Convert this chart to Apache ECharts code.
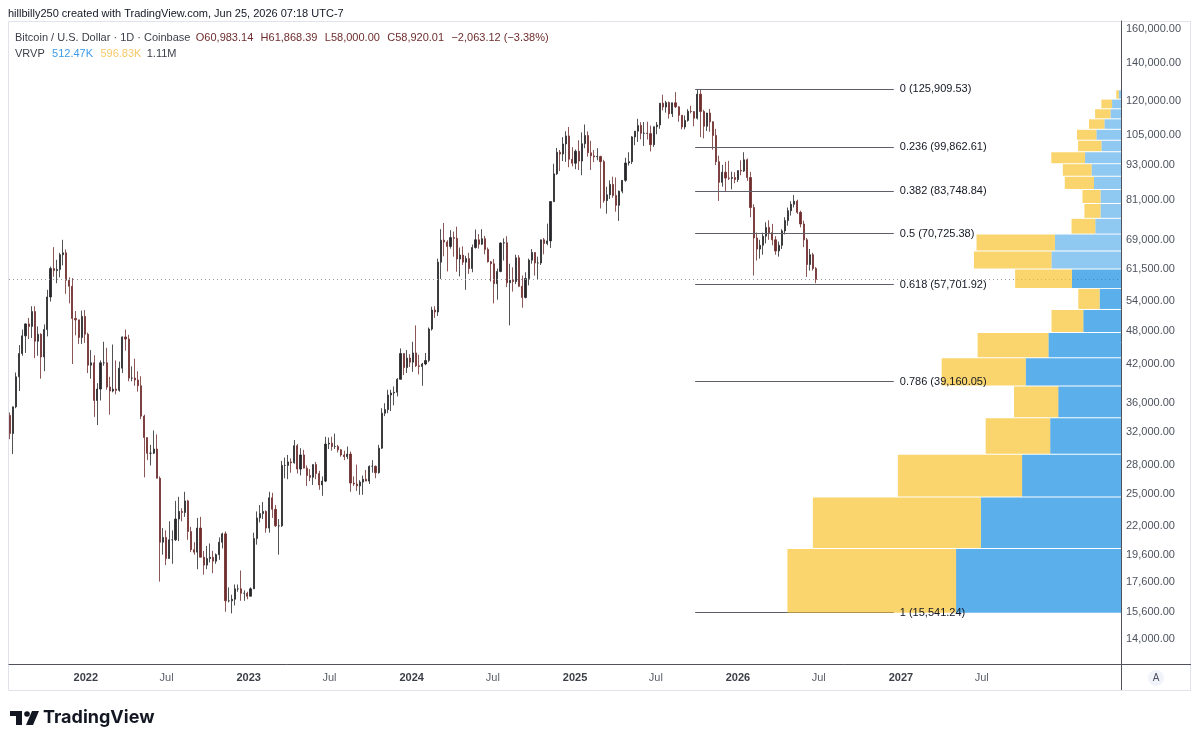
<!DOCTYPE html>
<html>
<head>
<meta charset="utf-8">
<script src="https://cdn.jsdelivr.net/npm/echarts@6/dist/echarts.min.js"></script>
<style>
html,body{margin:0;padding:0;background:#ffffff;}
#chart{width:1199px;height:745px;}
</style>
</head>
<body>
<div id="chart"></div>
<script>
// ---------------- DATA ----------------
// Weekly candles (weeks starting Monday), values in thousands of USD: [open, high, low, close]
const firstWeekMonday = '2021-07-12';
const ohlc2021 = [
  [34.2,34.6,31.1,31.8],[31.8,35.4,29.3,35.4],[35.4,40.6,35.2,39.9],[39.9,45.3,37.7,43.8],
  [43.8,48.2,43.4,47.0],[47.0,49.4,43.9,49.3],[49.3,50.5,46.4,48.8],[48.8,52.9,46.6,51.8],
  [51.8,52.9,43.0,46.0],[46.0,48.8,43.4,47.3],[47.3,47.5,39.6,43.2],[43.2,49.2,40.8,48.2],
  [48.2,56.5,46.9,54.9],[54.9,62.0,53.9,61.5],[61.5,67.0,59.5,61.0],[61.0,63.7,58.0,61.3],
  [61.3,65.5,59.4,65.0],[65.0,69.0,62.3,65.5],[65.5,66.4,55.6,58.7],[58.7,59.4,53.5,57.3],
  [57.3,59.2,42.0,50.4],[50.4,51.9,47.1,50.1],[50.1,50.1,45.5,46.7],[46.7,52.0,45.5,50.8],
  [50.8,52.1,45.7,47.3]
];
const ohlc2022 = [
  [47.3,47.6,40.5,41.8],[41.8,44.4,39.6,42.2],[42.2,43.5,34.0,36.3],[36.3,38.9,32.9,38.0],
  [38.0,42.6,36.3,42.2],[42.2,45.9,41.7,42.2],[42.2,44.8,37.9,38.3],[38.3,39.9,34.3,37.7],
  [37.7,45.4,37.5,38.0],[38.0,42.6,37.2,37.8],[37.8,42.4,37.6,41.3],[41.3,46.9,40.5,46.8],
  [46.8,48.2,44.3,46.4],[46.4,47.2,39.2,39.7],[39.7,41.6,39.2,39.7],[39.7,42.9,38.5,39.4],
  [39.4,40.8,37.6,38.5],[38.5,40.0,33.7,34.1],[34.1,34.3,26.7,31.3],[31.3,31.3,28.6,29.4],
  [29.4,30.4,28.0,29.4],[29.4,32.2,29.3,29.9],[29.9,31.7,26.6,26.6],[26.6,26.8,17.6,20.6],
  [20.6,21.8,19.6,21.0],[21.0,21.6,18.8,19.3],[19.3,22.4,19.3,20.8],[20.8,21.6,18.9,20.8],
  [20.8,24.3,20.7,22.6],[22.6,24.7,20.7,23.3],[23.3,23.6,22.4,23.2],[23.2,25.2,22.8,24.3],
  [24.3,24.4,20.8,21.5],[21.5,21.9,19.8,20.0],[20.0,20.6,19.6,19.8],[19.8,22.7,18.5,21.8],
  [21.8,22.8,19.4,19.4],[19.4,19.9,18.1,18.8],[18.8,20.3,18.5,19.3],[19.3,20.5,19.0,19.4],
  [19.4,19.9,18.2,19.1],[19.1,19.7,18.9,19.6],[19.6,21.0,19.2,20.6],[20.6,21.4,20.1,21.3],
  [21.3,21.5,15.6,16.3],[16.3,17.2,16.2,16.3],[16.3,16.7,15.5,16.4],[16.4,17.4,16.0,17.1],
  [17.1,17.4,16.9,17.1],[17.1,18.4,16.3,16.8],[16.8,17.0,16.3,16.8],[16.8,16.9,16.4,16.6]
];
const ohlc2023 = [
  [16.6,17.2,16.6,17.1],[17.1,21.4,17.1,20.9],[20.9,23.3,20.4,22.7],[22.7,23.9,22.3,23.1],
  [23.1,24.2,22.6,23.3],[23.3,23.4,21.4,21.8],[21.8,25.2,21.4,24.6],[24.6,25.1,22.7,23.5],
  [23.5,23.9,21.9,22.0],[22.0,22.6,19.6,22.0],[22.0,28.5,21.9,28.0],[28.0,28.9,26.6,28.0],
  [28.0,29.2,26.5,28.4],[28.4,28.8,27.2,28.3],[28.3,31.0,28.2,30.3],[30.3,30.5,27.1,27.6],
  [27.6,30.0,26.9,29.2],[29.2,29.8,27.7,27.7],[27.7,28.0,25.8,26.9],[26.9,27.6,26.3,26.7],
  [26.7,28.1,25.9,28.1],[28.1,28.4,26.5,27.1],[27.1,27.4,25.4,25.9],[25.9,26.8,24.8,26.3],
  [26.3,31.4,26.2,30.5],[30.5,31.3,29.9,30.6],[30.6,31.4,29.7,30.2],[30.2,31.8,29.9,30.2],
  [30.2,30.4,29.5,29.8],[29.8,29.9,29.0,29.2],[29.2,29.7,28.6,29.0],[29.0,30.2,28.7,29.3],
  [29.3,29.6,25.2,26.1],[26.1,26.8,25.8,26.0],[26.0,28.1,25.3,25.8],[25.8,26.4,24.9,26.2],
  [26.2,26.9,24.9,26.5],[26.5,27.5,26.3,26.3],[26.3,28.0,26.0,27.9],[27.9,28.6,27.2,27.9],
  [27.9,28.0,26.6,27.2],[27.2,30.4,27.1,30.0],[30.0,35.2,29.9,34.5],[34.5,35.9,34.1,35.0],
  [35.0,37.9,34.5,37.1],[37.1,37.9,34.8,37.4],[37.4,38.4,35.6,37.5],[37.5,39.7,36.9,39.5],
  [39.5,44.7,39.5,43.8],[43.8,43.8,40.2,41.4],[41.4,44.4,40.5,43.0],[43.0,43.7,41.5,42.3]
];
const ohlc2024 = [
  [42.3,45.9,40.7,43.9],[43.9,49.0,41.5,41.7],[41.7,43.6,40.3,41.6],[41.6,42.2,38.5,42.0],
  [42.0,43.9,41.8,42.6],[42.6,48.6,42.3,48.3],[48.3,52.8,48.0,52.1],[52.1,52.9,50.5,51.7],
  [51.7,64.0,50.9,63.1],[63.1,72.0,59.0,68.9],[68.9,73.8,64.6,68.4],[68.4,68.9,60.8,67.2],
  [67.2,71.7,66.6,69.6],[69.6,71.3,64.5,69.4],[69.4,72.7,60.7,63.9],[63.9,66.9,59.6,64.9],
  [64.9,67.2,62.4,63.1],[63.1,64.7,56.5,64.0],[64.0,65.5,60.2,61.5],[61.5,67.7,60.6,66.9],
  [66.9,71.9,66.6,69.0],[69.0,70.6,66.6,67.8],[67.8,72.0,67.6,69.3],[69.3,70.1,65.1,66.4],
  [66.4,66.9,63.0,63.2],[63.2,63.4,58.4,62.7],[62.7,63.9,53.5,57.9],[57.9,61.5,54.3,60.8],
  [60.8,68.3,60.6,68.1],[68.1,69.4,63.5,68.2],[68.2,70.0,57.1,58.1],[58.1,62.7,49.0,58.7],
  [58.7,61.8,56.1,58.4],[58.4,65.0,57.8,64.2],[64.2,64.9,57.2,57.3],[57.3,59.8,52.6,54.8],
  [54.8,60.6,54.6,59.1],[59.1,64.0,57.5,63.6],[63.6,66.5,62.7,65.6],[65.6,65.6,59.8,62.9],
  [62.9,64.5,58.9,62.9],[62.9,69.0,62.4,69.0],[69.0,69.5,65.1,68.0],[68.0,73.6,67.5,68.7],
  [68.7,80.4,66.8,80.4],[80.4,93.5,80.2,89.8],[89.8,99.6,89.4,97.9],[97.9,98.8,90.8,97.2],
  [97.2,104.0,94.5,101.2],[101.2,106.5,94.2,104.5],[104.5,108.3,92.2,95.2],[95.2,99.9,92.5,93.7],
  [93.7,99.0,91.5,98.3]
];
const ohlc2025 = [
  [98.3,102.7,91.2,94.5],[94.5,106.0,89.3,101.3],[101.3,109.4,99.5,104.7],[104.7,106.4,96.2,97.7],
  [97.7,102.5,91.2,96.5],[96.5,98.8,94.1,96.1],[96.1,99.5,94.8,96.3],[96.3,96.5,78.2,94.3],
  [94.3,95.0,80.0,80.7],[80.7,85.3,76.6,82.6],[82.6,87.5,81.2,86.1],[86.1,88.8,81.6,82.4],
  [82.4,88.5,77.2,79.2],[79.2,84.0,74.4,83.8],[83.8,87.6,83.1,87.5],[87.5,95.8,87.0,93.8],
  [93.8,97.9,92.8,94.3],[94.3,104.4,93.4,104.1],[104.1,106.6,100.7,106.5],[106.5,111.9,102.0,109.0],
  [109.0,110.4,103.1,105.6],[105.6,110.5,100.4,105.7],[105.7,110.6,103.0,105.5],[105.5,108.9,98.2,100.9],
  [100.9,108.5,100.0,108.4],[108.4,110.5,105.2,109.2],[109.2,119.2,107.5,119.1],[119.1,123.2,115.7,117.3],
  [117.3,120.2,114.7,119.4],[119.4,119.9,112.0,114.2],[114.2,119.3,112.7,119.3],[119.3,124.5,116.8,117.4],
  [117.4,117.6,110.6,113.5],[113.5,113.5,107.3,108.3],[108.3,113.4,107.3,111.2],[111.2,116.3,110.6,115.3],
  [115.3,117.9,114.4,115.2],[115.2,115.4,108.6,112.2],[112.2,125.7,111.6,123.5],[123.5,125.9,104.0,115.2],
  [115.2,116.0,103.5,108.6],[108.6,114.6,106.6,114.5],[114.5,116.4,106.3,110.6],[110.6,110.8,98.9,104.7],
  [104.7,107.5,93.0,94.3],[94.3,96.6,80.6,86.8],[86.8,93.1,85.3,90.4],[90.4,94.2,83.8,88.3],
  [88.3,94.6,87.6,88.2],[88.2,90.6,84.4,88.5],[88.5,90.4,86.5,87.8],[87.8,91.0,86.9,91.0]
];
const ohlc2026 = [
  [91.0,94.8,89.3,90.8],[90.8,97.9,90.5,95.0],[95.0,95.5,87.3,88.5],[88.5,90.5,75.5,78.5],
  [78.5,79.5,59.8,69.5],[69.5,71.0,63.5,66.5],[66.5,69.0,64.0,67.5],[67.5,71.0,65.0,70.0],
  [70.0,74.0,68.0,72.5],[72.5,74.6,69.0,71.0],[71.0,73.5,67.5,69.0],[69.0,70.0,65.0,66.0],
  [66.0,68.5,64.5,67.5],[67.5,72.0,66.5,71.5],[71.5,75.5,70.5,74.5],[74.5,78.5,73.0,77.5],
  [77.5,80.5,76.0,79.5],[79.5,82.5,78.5,80.5],[80.5,81.0,76.5,77.0],[77.0,77.5,72.5,73.5],
  [73.5,74.5,67.0,69.0],[69.0,69.5,59.5,62.5],[62.5,66.5,61.0,65.0],[65.0,65.5,61.0,61.5],
  [61.5,61.868,58.0,58.92]
];

// Fibonacci retracement
const fibLevels = [0, 0.236, 0.382, 0.5, 0.618, 0.786, 1];
const fibPrices = [125909.53, 99862.61, 83748.84, 70725.38, 57701.92, 39160.05, 15541.24];
const fibStart = '2025-09-27';
const fibEnd = '2026-12-16';
const lastPrice = 58920.01;

// Visible range volume profile (24 rows), volumes in thousands
const profileEdges = [15541, 20140, 24739, 29338, 33937, 38535, 43134, 47733, 52332, 56931, 61530, 66129,
  70727, 75326, 79925, 84524, 89123, 93722, 98320, 102919, 107518, 112117, 116716, 121315, 125914];
const profileUp   = [75.7, 64.3, 45.4, 32.5, 28.8, 43.7, 33.3, 17.3, 9.8, 22.5, 31.9, 30.3,
  11.8, 9.4, 9.4, 12.4, 13.5, 16.5, 9.0, 11.3, 7.6, 4.8, 4.1, 1.0];
const profileDown = [77.4, 77.1, 57.0, 29.6, 20.3, 38.6, 32.5, 14.6, 9.8, 26.1, 35.6, 36.0,
  10.9, 7.4, 8.3, 13.4, 13.2, 15.5, 10.7, 8.9, 7.1, 7.1, 4.9, 1.2];
const valueAreaRows = 10; // rows 0..9 lie in the value area

// Axis ticks
const priceTicks = [14000, 15600, 17600, 19600, 22000, 25000, 28000, 32000, 36000, 42000, 48000,
  54000, 61500, 69000, 81000, 93000, 105000, 120000, 140000, 160000];
const timeTicks = ['2022-01-01','2022-07-01','2023-01-01','2023-07-01','2024-01-01','2024-07-01',
  '2025-01-01','2025-07-01','2026-01-01','2026-07-01','2027-01-01','2027-07-01'];
const timeTickNames = ['2022','Jul','2023','Jul','2024','Jul','2025','Jul','2026','Jul','2027','Jul'];

// Legend
const symbolTitle = 'Bitcoin / U.S. Dollar · 1D · Coinbase';
const lastBar = {open: 60983.14, high: 61868.39, low: 58000.00, close: 58920.01, change: -2063.12, changePct: -3.38};
const vrvpLegend = ['512.47K', '596.83K', '1.11M'];
const headerText = 'hillbilly250 created with TradingView.com, Jun 25, 2026 07:18 UTC-7';

// ---------------- BUILD ----------------
const DAY = 86400000;
const parseUTC = s => { const p = s.split('-').map(Number); return Date.UTC(p[0], p[1] - 1, p[2]); };
const allWeeks = [].concat(ohlc2021, ohlc2022, ohlc2023, ohlc2024, ohlc2025, ohlc2026);
const t0 = parseUTC(firstWeekMonday);
const candleData = allWeeks.map((w, i) => [t0 + i * 7 * DAY + 3 * DAY, w[0] * 1000, w[3] * 1000, w[2] * 1000, w[1] * 1000]);

const timeTickValues = timeTicks.map(parseUTC);
const xMin = Date.UTC(2021, 6, 13), xMax = Date.UTC(2028, 4, 8);
const yMin = 12662, yMax = 165430;

const fmt2 = v => v.toLocaleString('en-US', {minimumFractionDigits: 2, maximumFractionDigits: 2});
const MINUS = '\u2212';
const sgn = v => (v < 0 ? MINUS : '') + fmt2(Math.abs(v));

const FONT = '"Liberation Sans", Arial, sans-serif';
const GRID = {left: 9, right: 78, top: 21, bottom: 81};

const fibMarks = fibLevels.map((lv, i) => [
  {coord: [parseUTC(fibStart), fibPrices[i]],
   label: {show: true, position: 'end', distance: 6, formatter: lv + ' (' + fmt2(fibPrices[i]) + ')',
            color: '#131722', fontSize: 11, fontFamily: FONT}},
  {coord: [parseUTC(fibEnd), fibPrices[i]]}
]);

const profileData = profileUp.map((u, i) => [u, profileEdges[i], profileEdges[i + 1], profileDown[i], i < valueAreaRows ? 1 : 0]);
const maxRow = Math.max.apply(null, profileUp.map((u, i) => u + profileDown[i]));

const DOWN_C = '#6e2c2c';
const UP_C = '#26262a';
const legendLine2 = '{t|' + symbolTitle + '} ' +
  '{r|O' + fmt2(lastBar.open) + '} {r|H' + fmt2(lastBar.high) + '} {r|L' + fmt2(lastBar.low) + '} {r|C' + fmt2(lastBar.close) + '} ' +
  '{r|' + sgn(lastBar.change) + ' (' + sgn(lastBar.changePct) + '%)}';
const legendLine3 = '{t|VRVP} {u|' + vrvpLegend[0] + '} {d|' + vrvpLegend[1] + '} {t|' + vrvpLegend[2] + '}';

const option = {
  backgroundColor: '#ffffff',
  animation: false,
  textStyle: {fontFamily: FONT},
  grid: [Object.assign({}, GRID), Object.assign({}, GRID)],
  xAxis: [{
    type: 'value', gridIndex: 0, min: xMin, max: xMax, scale: true,
    axisLine: {show: true, onZero: false, lineStyle: {color: '#50535e', width: 1}},
    axisTick: {show: false}, splitLine: {show: false},
    axisLabel: {
      customValues: timeTickValues, margin: 8, fontSize: 11, fontFamily: FONT, color: '#4c525e',
      formatter: function (v) {
        let best = 0, bd = Infinity;
        timeTickValues.forEach((t, i) => { const d = Math.abs(t - v); if (d < bd) { bd = d; best = i; } });
        const n = timeTickNames[best];
        return n === 'Jul' ? '{m|' + n + '}' : '{y|' + n + '}';
      },
      rich: {y: {fontSize: 11, fontWeight: 'bold', color: '#3b3f48', fontFamily: FONT},
             m: {fontSize: 11, color: '#5d606b', fontFamily: FONT}}
    }
  }, {
    type: 'value', gridIndex: 1, inverse: true, min: 0, max: maxRow / 0.3, show: false
  }],
  yAxis: [{
    type: 'log', gridIndex: 0, logBase: 10, min: yMin, max: yMax, position: 'right',
    axisLine: {show: true, lineStyle: {color: '#50535e', width: 1}},
    axisTick: {show: false}, splitLine: {show: false},
    axisLabel: {
      customValues: priceTicks, margin: 5, fontSize: 11, fontFamily: FONT, color: '#4c525e',
      formatter: v => fmt2(Math.round(v))
    }
  }, {
    type: 'log', gridIndex: 1, logBase: 10, min: yMin, max: yMax, show: false
  }],
  series: [{
    type: 'candlestick', xAxisIndex: 0, yAxisIndex: 0, z: 2,
    data: candleData,
    encode: {x: 0, y: [1, 2, 3, 4]},
    barWidth: 1.6,
    itemStyle: {color: UP_C, color0: DOWN_C, borderColor: UP_C, borderColor0: DOWN_C, borderWidth: 0.8},
    markLine: {
      silent: true, animation: false, symbol: ['none', 'none'],
      lineStyle: {color: '#5d606b', width: 1, type: 'solid'},
      label: {show: false},
      data: fibMarks.concat([{yAxis: lastPrice, lineStyle: {color: '#9598a1', type: [1, 3], width: 1}, label: {show: false}}])
    }
  }, {
    type: 'custom', xAxisIndex: 1, yAxisIndex: 1, z: 5, silent: true,
    data: profileData,
    encode: {x: 0, y: 1},
    renderItem: function (params, api) {
      const up = api.value(0), low = api.value(1), high = api.value(2), down = api.value(3), va = api.value(4);
      const pr = api.coord([0, low]);
      const pm = api.coord([up, high]);
      const pl = api.coord([up + down, high]);
      const yTop = pm[1] + 1, yBot = pr[1];
      return {type: 'group', children: [
        {type: 'rect', shape: {x: pm[0], y: yTop, width: pr[0] - pm[0], height: yBot - yTop},
         style: {fill: va ? 'rgba(21,142,228,0.70)' : 'rgba(21,142,228,0.48)'}},
        {type: 'rect', shape: {x: pl[0], y: yTop, width: pm[0] - pl[0], height: yBot - yTop},
         style: {fill: 'rgba(248,195,49,0.70)'}}
      ]};
    }
  }],
  graphic: [
    {type: 'rect', z: -10, silent: true, shape: {x: 8.5, y: 21.5, width: 1182, height: 669},
     style: {fill: 'none', stroke: '#e0e3eb', lineWidth: 1}},
    {type: 'line', z: 10, silent: true, shape: {x1: 1121.5, y1: 664, x2: 1121.5, y2: 690}, style: {stroke: '#50535e', lineWidth: 1}},
    {type: 'line', z: 10, silent: true, shape: {x1: 1121, y1: 664.5, x2: 1191, y2: 664.5}, style: {stroke: '#50535e', lineWidth: 1}},
    {type: 'text', silent: true, x: 8, y: 14,
     style: {text: headerText, fontSize: 11, fontFamily: FONT, fill: '#131722', verticalAlign: 'middle'}},
    {type: 'text', silent: true, x: 15, y: 38,
     style: {text: legendLine2, verticalAlign: 'middle', fontFamily: FONT,
       rich: {t: {fontSize: 11, fill: '#3b3f48', fontFamily: FONT}, r: {fontSize: 11, fill: DOWN_C, fontFamily: FONT, padding: [0, 2, 0, 2]}}}},
    {type: 'text', silent: true, x: 15, y: 54,
     style: {text: legendLine3, verticalAlign: 'middle', fontFamily: FONT,
       rich: {t: {fontSize: 11, fill: '#3b3f48', fontFamily: FONT, padding: [0, 2, 0, 0]}, u: {fontSize: 11, fill: '#3d9be9', fontFamily: FONT, padding: [0, 2, 0, 2]},
              d: {fontSize: 11, fill: '#f5c96a', fontFamily: FONT, padding: [0, 2, 0, 2]}}}},
    {type: 'circle', silent: true, shape: {cx: 1156, cy: 678, r: 8}, style: {fill: '#f0f3fa'}},
    {type: 'text', silent: true, x: 1156, y: 678,
     style: {text: 'A', fontSize: 10, fontFamily: FONT, fill: '#4c525e', align: 'center', verticalAlign: 'middle'}},
    {type: 'group', silent: true, x: 10, y: 711, children: [
      {type: 'rect', shape: {x: 0, y: 0, width: 12, height: 5}, style: {fill: '#131722'}},
      {type: 'rect', shape: {x: 6, y: 0, width: 6, height: 14}, style: {fill: '#131722'}},
      {type: 'circle', shape: {cx: 17, cy: 3, r: 2.8}, style: {fill: '#131722'}},
      {type: 'polygon', shape: {points: [[22, 0], [29, 0], [23, 14], [16, 14]]}, style: {fill: '#131722'}}
    ]},
    {type: 'text', silent: true, x: 43, y: 718,
     style: {text: 'TradingView', fontSize: 18, fontWeight: 'bold', fontFamily: 'Inter, "Liberation Sans", sans-serif', fill: '#131722', verticalAlign: 'middle'}}
  ]
};

const chart = echarts.init(document.getElementById('chart'), null, {renderer: 'canvas', width: 1199, height: 745});
chart.setOption(option);
</script>
</body>
</html>
